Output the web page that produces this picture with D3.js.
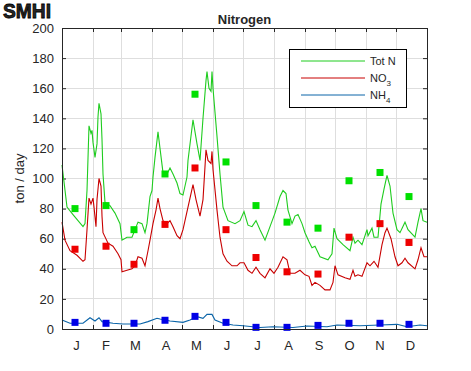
<!DOCTYPE html>
<html>
<head>
<meta charset="utf-8">
<script src="https://cdn.jsdelivr.net/npm/d3@7"></script>
<style>
  body { margin: 0; background: #fff; }
  text { font-family: "Liberation Sans", Arial, sans-serif; fill: #262626; }
</style>
</head>
<body>
<svg width="471" height="371"></svg>
<script>
// month layout (day of year)
const monthStarts = [0, 31, 59, 90, 120, 151, 181, 212, 243, 273, 304, 334, 365];
const monthLabels = ['J', 'F', 'M', 'A', 'M', 'J', 'J', 'A', 'S', 'O', 'N', 'D'];
const yTicks = [0, 20, 40, 60, 80, 100, 120, 140, 160, 180, 200];

// daily curves as (day, value)
const totNDays = [0, 5, 11, 21, 23, 25, 27, 29, 30, 31, 33, 35, 36, 37, 39, 40, 41, 43, 48, 53, 58, 60, 65, 70, 73, 76, 80, 83, 85, 88, 90, 91, 93, 96, 98, 101, 105, 108, 111, 115, 118, 121, 125, 126, 131, 135, 138, 141, 144, 145, 147, 149, 150, 151, 155, 158, 161, 166, 173, 178, 182, 186, 190, 194, 198, 203, 208, 213, 218, 221, 224, 226, 230, 233, 236, 240, 243, 247, 250, 253, 258, 266, 270, 272, 275, 281, 288, 291, 293, 296, 300, 305, 306, 310, 312, 316, 319, 322, 325, 328, 331, 335, 338, 343, 346, 353, 356, 359, 361, 365];
const totN = [109, 81, 76, 68, 70, 92, 135, 130, 132, 124, 114, 123, 141, 150, 143, 126, 103, 84, 82, 77, 70, 59, 61, 61, 66, 71, 70, 64, 70, 88, 92, 101, 114, 131, 120, 104, 103, 107, 103, 97, 90, 89, 101, 112, 139, 123, 112, 140, 165, 171, 160, 158, 171, 160, 128, 103, 81, 72, 70, 72, 78, 69, 68, 72, 66, 59, 68, 77, 88, 92, 90, 79, 70, 75, 76, 70, 64, 58, 54, 55, 48, 46, 50, 67, 60, 56, 52, 61, 57, 59, 56, 66, 62, 67, 61, 61, 83, 93, 102, 95, 77, 66, 64, 71, 66, 61, 71, 80, 72, 71];

const no3Days = [0, 3, 8, 15, 21, 23, 25, 27, 29, 31, 32, 34, 35, 37, 39, 40, 41, 46, 51, 56, 59, 60, 65, 70, 73, 76, 80, 83, 86, 88, 91, 94, 96, 98, 101, 105, 108, 111, 115, 118, 121, 126, 131, 134, 138, 141, 144, 146, 149, 150, 151, 155, 158, 161, 165, 170, 175, 178, 182, 186, 190, 194, 198, 203, 208, 212, 216, 221, 225, 228, 233, 238, 243, 247, 250, 253, 258, 263, 268, 271, 273, 276, 283, 288, 291, 293, 296, 300, 305, 308, 312, 316, 320, 323, 325, 329, 333, 336, 340, 343, 346, 353, 356, 359, 362, 365];
const no3 = [71, 59, 52, 49, 45, 46, 66, 87, 83, 87, 81, 68, 86, 100, 95, 75, 64, 57, 55, 50, 46, 38, 39, 40, 42, 48, 47, 42, 52, 59, 70, 79, 87, 80, 72, 70, 72, 68, 62, 60, 66, 81, 96, 86, 75, 86, 119, 112, 110, 118, 106, 79, 61, 50, 45, 42, 42, 44, 44, 39, 37, 41, 37, 34, 40, 37, 41, 48, 46, 37, 37, 39, 36, 35, 29, 31, 29, 26, 26, 31, 42, 36, 34, 33, 39, 35, 36, 35, 44, 42, 45, 41, 56, 64, 67, 60, 48, 42, 44, 47, 44, 40, 46, 54, 48, 48];

const nh4Days = [0, 8, 21, 28, 33, 37, 40, 51, 61, 78, 86, 95, 98, 108, 121, 128, 135, 141, 145, 150, 153, 161, 171, 181, 198, 211, 231, 245, 265, 275, 298, 318, 335, 345, 358, 365];
const nh4 = [6, 3.8, 3.8, 7.5, 5.3, 7.5, 4.9, 3.8, 3.3, 3.3, 4.9, 7.1, 6.6, 5.3, 4.4, 6, 8.2, 7.1, 9.7, 9.7, 6, 3.8, 2.7, 2.2, 1, 1.5, 1, 2, 1.5, 2.7, 2.2, 2.7, 3.1, 1.5, 2.7, 2.2];

// monthly samples (squares)
const sampleDays = [13, 44, 72, 103, 133, 164, 194, 225, 256, 287, 318, 347];
const totNSamples = [80, 82, 66, 103, 156, 111, 82, 71, 67, 98.5, 104, 88];
const no3Samples = [53, 55, 43, 69.5, 107, 66, 47.5, 38, 36.5, 61, 70, 57.5];
const nh4Samples = [4.4, 3.8, 3.8, 5.8, 8.4, 4.4, 1.1, 1.1, 2.4, 3.8, 3.8, 3.1];

const series = [
    {name: 'Tot N', sub: '', days: totNDays, vals: totN, samples: totNSamples, line: '#1fcc1f', mark: '#00e000'},
    {name: 'NO', sub: '3', days: no3Days, vals: no3, samples: no3Samples, line: '#c80000', mark: '#ee0000'},
    {name: 'NH', sub: '4', days: nh4Days, vals: nh4, samples: nh4Samples, line: '#0a64a8', mark: '#0000e6'}
];

const svg = d3.select('svg');
const pLeft = 62, pRight = 427, pTop = 28, pBottom = 329;

const x = d3.scaleLinear().domain([0, 365]).range([pLeft, pRight]);
const y = d3.scaleLinear().domain([0, 200]).range([pBottom, pTop]);

// grid
svg.append('g').selectAll('line')
    .data(monthStarts.slice(1, -1))
    .enter().append('line')
    .attr('x1', d => x(d)).attr('x2', d => x(d))
    .attr('y1', pTop).attr('y2', pBottom)
    .attr('stroke', '#dedede').attr('shape-rendering', 'crispEdges');

svg.append('g').selectAll('line')
    .data(yTicks.slice(1, -1))
    .enter().append('line')
    .attr('x1', pLeft).attr('x2', pRight)
    .attr('y1', d => y(d)).attr('y2', d => y(d))
    .attr('stroke', '#dedede').attr('shape-rendering', 'crispEdges');

// axes, ticks pointing inwards on all four sides
const yLeft = svg.append('g').attr('transform', `translate(${pLeft},0)`)
    .call(d3.axisLeft(y).tickValues(yTicks).tickSizeInner(-4).tickSizeOuter(0).tickPadding(8));
const yRight = svg.append('g').attr('transform', `translate(${pRight},0)`)
    .call(d3.axisRight(y).tickValues(yTicks).tickSizeInner(-4).tickSizeOuter(0).tickFormat(''));
const xBottom = svg.append('g').attr('transform', `translate(0,${pBottom})`)
    .call(d3.axisBottom(x).tickValues(monthStarts).tickSizeInner(-4).tickSizeOuter(0).tickFormat(''));
const xTop = svg.append('g').attr('transform', `translate(0,${pTop})`)
    .call(d3.axisTop(x).tickValues(monthStarts).tickSizeInner(-4).tickSizeOuter(0).tickFormat(''));

const monthMids = monthStarts.slice(0, -1).map((m, i) => (m + monthStarts[i + 1]) / 2 - 1.5);
const xLabels = svg.append('g').attr('transform', `translate(0,${pBottom})`)
    .call(d3.axisBottom(x).tickValues(monthMids).tickSize(0).tickPadding(12)
        .tickFormat((d, i) => monthLabels[i]));
xLabels.select('.domain').remove();

[yLeft, yRight, xBottom, xTop, xLabels].forEach(g => {
    g.selectAll('path.domain').attr('stroke', '#262626');
    g.selectAll('.tick line').attr('stroke', '#262626');
    g.selectAll('.tick text').attr('font-size', 13).attr('fill', '#262626')
        .attr('font-family', '"Liberation Sans", Arial, sans-serif');
});

// curves
const line = d3.line().x(d => x(d[0])).y(d => y(d[1]));
series.forEach(s => {
    svg.append('path')
        .datum(s.days.map((d, i) => [d, s.vals[i]]))
        .attr('d', line)
        .attr('fill', 'none')
        .attr('stroke', s.line)
        .attr('stroke-width', 1.1);
});

// monthly squares
series.forEach(s => {
    svg.append('g').selectAll('rect')
        .data(s.samples)
        .enter().append('rect')
        .attr('x', (d, i) => x(sampleDays[i]) - 3.5)
        .attr('y', d => y(d) - 3.5)
        .attr('width', 7).attr('height', 7)
        .attr('fill', s.mark);
});

// frame on top
svg.append('rect')
    .attr('x', pLeft).attr('y', pTop)
    .attr('width', pRight - pLeft).attr('height', pBottom - pTop)
    .attr('fill', 'none').attr('stroke', '#262626').attr('shape-rendering', 'crispEdges');

// title & axis label
svg.append('text')
    .attr('x', (pLeft + pRight) / 2).attr('y', 24)
    .attr('text-anchor', 'middle')
    .attr('font-size', 13).attr('font-weight', 'bold')
    .attr('fill', '#000')
    .text('Nitrogen');

svg.append('text')
    .attr('transform', `translate(24,${(pTop + pBottom) / 2}) rotate(-90)`)
    .attr('text-anchor', 'middle')
    .attr('font-size', 13)
    .text('ton / day');

// legend
const legend = svg.append('g').attr('transform', 'translate(289,49)');
legend.append('rect')
    .attr('width', 117).attr('height', 58)
    .attr('fill', '#fff').attr('stroke', '#000').attr('shape-rendering', 'crispEdges');
series.forEach((s, i) => {
    const ly = 12 + i * 17;
    legend.append('line')
        .attr('x1', 12).attr('x2', 76)
        .attr('y1', ly).attr('y2', ly)
        .attr('stroke', s.line);
    const t = legend.append('text')
        .attr('x', 81).attr('y', ly + 4)
        .attr('font-size', 11);
    t.append('tspan').text(s.name);
    if (s.sub) {
        t.append('tspan').attr('dy', 4).attr('font-size', 8).text(s.sub);
    }
});

// logo
svg.append('text')
    .attr('x', 3).attr('y', 18)
    .attr('font-size', 20).attr('font-weight', 900)
    .attr('font-family', '"DejaVu Sans", sans-serif')
    .attr('textLength', 48).attr('lengthAdjust', 'spacingAndGlyphs')
    .attr('fill', '#000').attr('stroke', '#000').attr('stroke-width', 0.8)
    .text('SMHI');
</script>
</body>
</html>
